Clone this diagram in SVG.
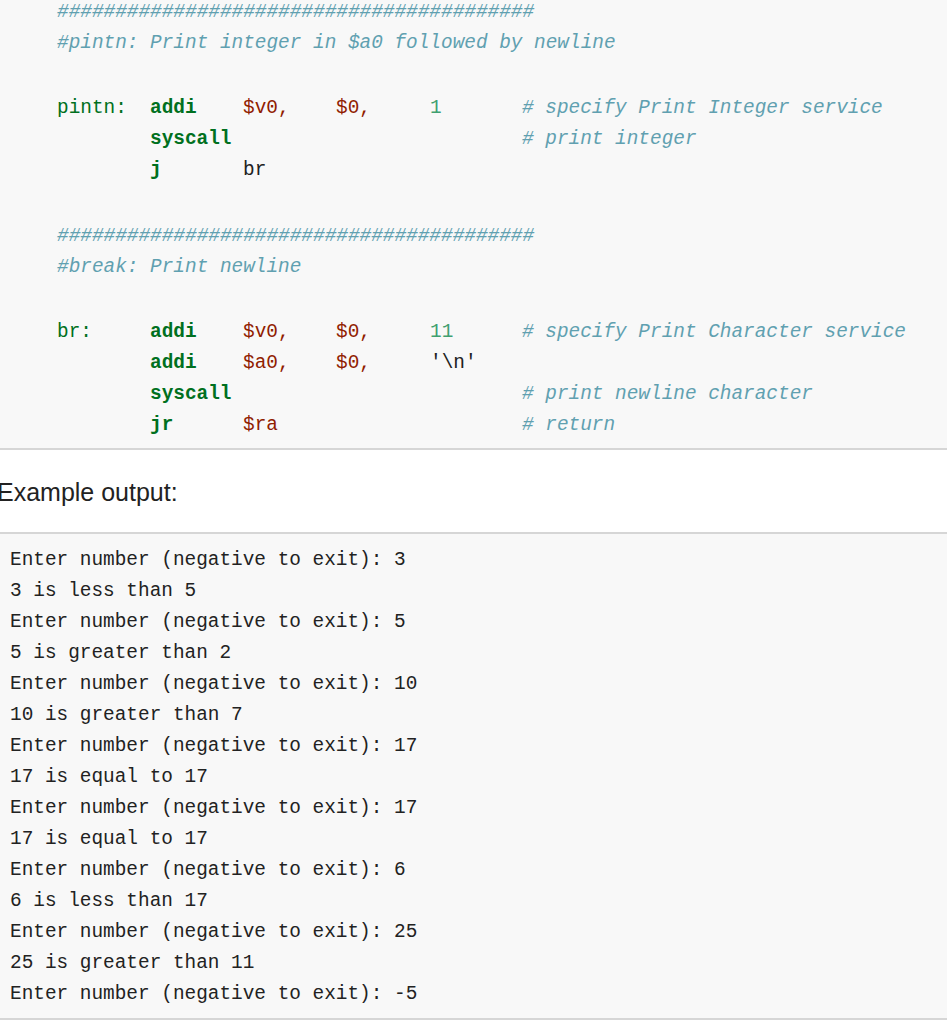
<svg xmlns="http://www.w3.org/2000/svg" width="947" height="1024" viewBox="0 0 947 1024">
<style>
text{font-family:"Liberation Mono","DejaVu Sans Mono",monospace;font-size:19.4px;white-space:pre}
.c{fill:#60a0b0;font-style:italic}
.k{fill:#007020;font-weight:bold}
.l{fill:#007020}
.r{fill:#902000}
.n{fill:#40a070}
.t{fill:#222}
.o{fill:#222}
</style>
<rect x="0" y="0" width="947" height="449" fill="#f8f8f8"/>
<rect x="0" y="448" width="947" height="2" fill="#d6d6d6"/>
<g id="code">
<text class="c" x="57" y="17">#########################################</text>
<text class="c" x="57" y="48">#pintn: Print integer in $a0 followed by newline</text>
<text class="l" x="57" y="113">pintn:</text>
<text class="k" x="150" y="113">addi</text>
<text class="r" x="243" y="113">$v0,</text>
<text class="r" x="336" y="113">$0,</text>
<text class="n" x="430" y="113">1</text>
<text class="c" x="522" y="113"># specify Print Integer service</text>
<text class="k" x="150" y="144">syscall</text>
<text class="c" x="522" y="144"># print integer</text>
<text class="k" x="150" y="175">j</text>
<text class="t" x="243" y="175">br</text>
<text class="c" x="57" y="241">#########################################</text>
<text class="c" x="57" y="272">#break: Print newline</text>
<text class="l" x="57" y="337">br:</text>
<text class="k" x="150" y="337">addi</text>
<text class="r" x="243" y="337">$v0,</text>
<text class="r" x="336" y="337">$0,</text>
<text class="n" x="430" y="337">11</text>
<text class="c" x="522" y="337"># specify Print Character service</text>
<text class="k" x="150" y="368">addi</text>
<text class="r" x="243" y="368">$a0,</text>
<text class="r" x="336" y="368">$0,</text>
<text class="t" x="430" y="368">'\n'</text>
<text class="k" x="150" y="399">syscall</text>
<text class="c" x="522" y="399"># print newline character</text>
<text class="k" x="150" y="430">jr</text>
<text class="r" x="243" y="430">$ra</text>
<text class="c" x="522" y="430"># return</text>
</g>
<text x="-3" y="501" style="font-family:'Liberation Sans',Arial,sans-serif;font-size:25px;fill:#222">Example output:</text>
<rect x="0" y="533" width="947" height="486" fill="#f8f8f8"/>
<rect x="0" y="532" width="947" height="2" fill="#d6d6d6"/>
<rect x="0" y="1018" width="947" height="2" fill="#d6d6d6"/>
<g id="output" class="o">
<text class="o" x="10" y="565">Enter number (negative to exit): 3</text>
<text class="o" x="10" y="596">3 is less than 5</text>
<text class="o" x="10" y="627">Enter number (negative to exit): 5</text>
<text class="o" x="10" y="658">5 is greater than 2</text>
<text class="o" x="10" y="689">Enter number (negative to exit): 10</text>
<text class="o" x="10" y="720">10 is greater than 7</text>
<text class="o" x="10" y="751">Enter number (negative to exit): 17</text>
<text class="o" x="10" y="782">17 is equal to 17</text>
<text class="o" x="10" y="813">Enter number (negative to exit): 17</text>
<text class="o" x="10" y="844">17 is equal to 17</text>
<text class="o" x="10" y="875">Enter number (negative to exit): 6</text>
<text class="o" x="10" y="906">6 is less than 17</text>
<text class="o" x="10" y="937">Enter number (negative to exit): 25</text>
<text class="o" x="10" y="968">25 is greater than 11</text>
<text class="o" x="10" y="999">Enter number (negative to exit): -5</text>
</g>
</svg>
